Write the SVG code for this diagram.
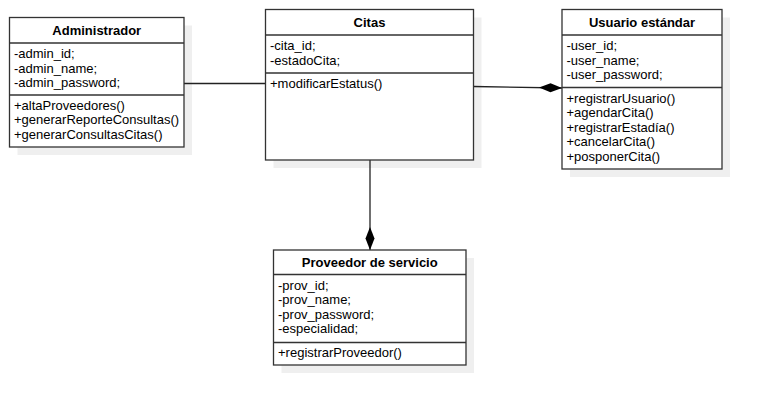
<svg xmlns="http://www.w3.org/2000/svg" width="762" height="405" viewBox="0 0 762 405">
<style>
.shadow{fill:#efefef;stroke:none}
.box{fill:#fff;stroke:#333;stroke-width:1.3}
.div{stroke:#333;stroke-width:1.3}
.t{font-family:"Liberation Sans",Arial,sans-serif;font-size:13px;fill:#000}
.h{font-family:"Liberation Sans",Arial,sans-serif;font-size:13px;font-weight:bold;fill:#000;text-anchor:middle}
.conn{stroke:#222;stroke-width:1.3;fill:none}
</style>
<defs>
<marker id="diamond" markerUnits="userSpaceOnUse" viewBox="0 0 23 10" refX="23" refY="5" markerWidth="23" markerHeight="10" orient="auto">
<path d="M0,5 L11.5,0.5 L23,5 L11.5,9.5 Z" fill="#000"/>
</marker>
</defs>
<rect width="762" height="405" fill="#fff"/>

<g id="shadows">
<rect class="shadow" x="17.5" y="25.5" width="174.5" height="129.5"/>
<rect class="shadow" x="273.5" y="17.5" width="208" height="150.5"/>
<rect class="shadow" x="570" y="17.5" width="160" height="159.5"/>
<rect class="shadow" x="281.5" y="258" width="192.5" height="115"/>
</g>

<g id="connectors">
<line class="conn" x1="184" y1="83.5" x2="265.5" y2="83.5"/>
<line class="conn" x1="473.5" y1="86.5" x2="562" y2="88" marker-end="url(#diamond)"/>
<line class="conn" x1="370" y1="160" x2="370" y2="250" marker-end="url(#diamond)"/>
</g>

<g id="administrador">
<rect class="box" x="9.5" y="17.5" width="174.5" height="129.5"/>
<line class="div" x1="9.5" y1="43" x2="184" y2="43"/>
<line class="div" x1="9.5" y1="95" x2="184" y2="95"/>
<text class="h" x="96.75" y="35">Administrador</text>
<text class="t" x="14" y="58">-admin_id;</text>
<text class="t" x="14" y="72.5">-admin_name;</text>
<text class="t" x="14" y="87">-admin_password;</text>
<text class="t" x="14" y="109.5">+altaProveedores()</text>
<text class="t" x="14" y="124">+generarReporteConsultas()</text>
<text class="t" x="14" y="138.5">+generarConsultasCitas()</text>
</g>

<g id="citas">
<rect class="box" x="265.5" y="9.5" width="208" height="150.5"/>
<line class="div" x1="265.5" y1="35" x2="473.5" y2="35"/>
<line class="div" x1="265.5" y1="73" x2="473.5" y2="73"/>
<text class="h" x="369.5" y="27">Citas</text>
<text class="t" x="270" y="50">-cita_id;</text>
<text class="t" x="270" y="64.5">-estadoCita;</text>
<text class="t" x="270" y="87.5">+modificarEstatus()</text>
</g>

<g id="usuario">
<rect class="box" x="562" y="9.5" width="160" height="159.5"/>
<line class="div" x1="562" y1="35" x2="722" y2="35"/>
<line class="div" x1="562" y1="87.5" x2="722" y2="87.5"/>
<text class="h" x="642" y="27">Usuario estándar</text>
<text class="t" x="566.5" y="50">-user_id;</text>
<text class="t" x="566.5" y="64.5">-user_name;</text>
<text class="t" x="566.5" y="79">-user_password;</text>
<text class="t" x="566.5" y="102.5">+registrarUsuario()</text>
<text class="t" x="566.5" y="117">+agendarCita()</text>
<text class="t" x="566.5" y="131.5">+registrarEstadía()</text>
<text class="t" x="566.5" y="146">+cancelarCita()</text>
<text class="t" x="566.5" y="160.5">+posponerCita()</text>
</g>

<g id="proveedor">
<rect class="box" x="273.5" y="250" width="192.5" height="115"/>
<line class="div" x1="273.5" y1="274.5" x2="466" y2="274.5"/>
<line class="div" x1="273.5" y1="342.5" x2="466" y2="342.5"/>
<text class="h" x="369.75" y="267">Proveedor de servicio</text>
<text class="t" x="278" y="289.5">-prov_id;</text>
<text class="t" x="278" y="304">-prov_name;</text>
<text class="t" x="278" y="318.5">-prov_password;</text>
<text class="t" x="278" y="333">-especialidad;</text>
<text class="t" x="278" y="357">+registrarProveedor()</text>
</g>
</svg>
